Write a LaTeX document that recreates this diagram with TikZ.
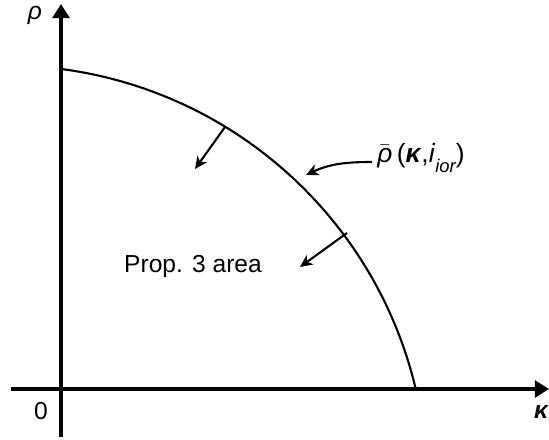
\documentclass[tikz,border=0pt]{standalone}
\usepackage{fontspec}
\setmainfont{Liberation Sans}
\usetikzlibrary{arrows.meta}
\tikzset{
  axis/.style={line width=2.3pt, -{Triangle[length=8pt,width=9.5pt]}},
  normalarrow/.style={line width=1.2pt, -{Stealth[length=7pt,width=6.5pt,inset=2pt]}},
  lbl/.style={inner sep=0pt, font=\fontsize{14}{17}\selectfont},
}
\begin{document}
\begin{tikzpicture}[x=0.02cm,y=0.02cm]
\useasboundingbox (0,0) rectangle (549,440);
\coordinate (o) at (61,51);
\coordinate (ctr) at (6.5,-46);
\coordinate (n1s) at (225,313);
\coordinate (n1e) at (195,271);
\coordinate (n2s) at (347,207);
\coordinate (n2e) at (300,173);
\coordinate (lblstart) at (372,278);
\coordinate (lblend) at (306,265);
\draw[axis] (61,3) -- (61,436);
\draw[axis] (11,51) -- (549,51);
\draw[line width=1.2pt] (ctr) ++(82.55:420.6) arc[start angle=82.55, end angle=13.3, radius=420.6];
\draw[normalarrow] (n1s) -- (n1e);
\draw[normalarrow] (n2s) -- (n2e);
\node[lbl] (rholbl) at (35,425) {\itshape ρ};
\node[lbl] (zerolbl) at (41,29) {0};
\node[lbl] (kappalbl) at (541,28) {\bfseries\itshape κ};
\node[lbl] (area) at (193,174) {Prop. 3 area};
\node[lbl, anchor=west, font=\fontsize{15}{18}\selectfont] (rhobar) at (377,282) {$\bar{\mbox{\itshape ρ}}$\,(\textbf{\textit{κ}},\textit{i}\raisebox{-0.35em}{\fontsize{10.5}{12}\selectfont\itshape ior})};
\draw[normalarrow] (lblstart) to[out=180,in=25] (lblend);
\end{tikzpicture}
\end{document}
